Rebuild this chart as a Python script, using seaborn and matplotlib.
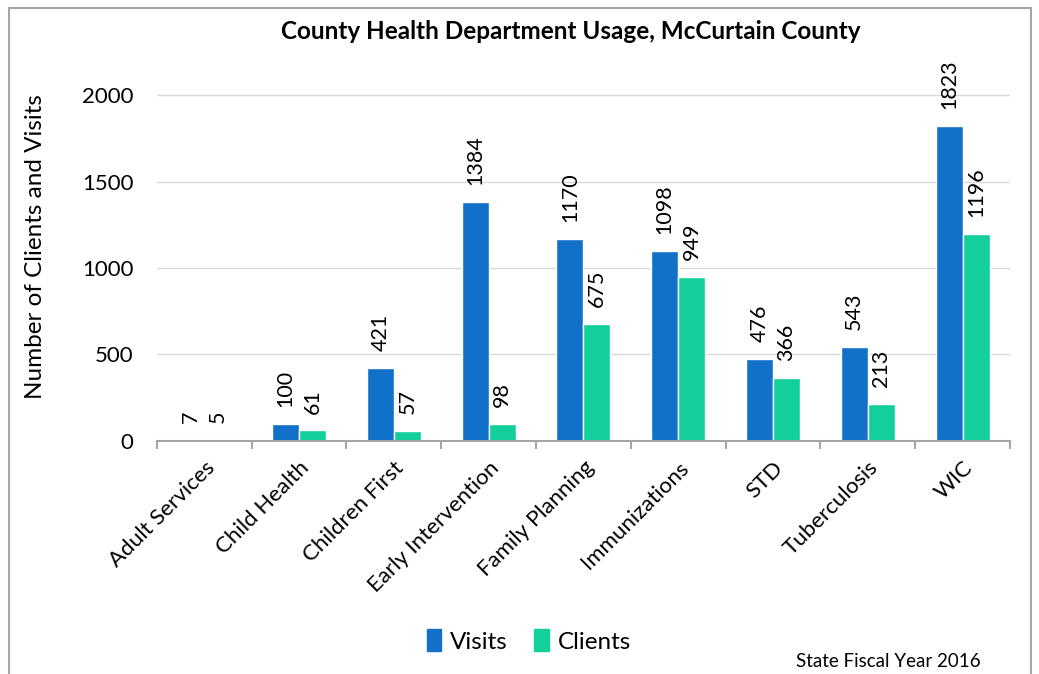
import seaborn as sns
import matplotlib.pyplot as plt
import matplotlib.patches as mpatches
import pandas as pd
import numpy as np

sns.set_theme(style="white")
plt.rcParams["font.family"] = ["Lato", "DejaVu Sans"]
plt.rcParams["text.color"] = "black"
plt.rcParams["axes.labelcolor"] = "black"
plt.rcParams["xtick.labelcolor"] = "black"
plt.rcParams["ytick.labelcolor"] = "black"

# 数据
categories = ["Adult Services", "Child Health", "Children First", "Early Intervention",
              "Family Planning", "Immunizations", "STD", "Tuberculosis", "WIC"]
visits = [7, 100, 421, 1384, 1170, 1098, 476, 543, 1823]
clients = [5, 61, 57, 98, 675, 949, 366, 213, 1196]
series = ["Visits", "Clients"]
colors = ["#1170C8", "#12CF9C"]

df = pd.DataFrame({
    "category": categories * 2,
    "value": visits + clients,
    "series": ["Visits"] * len(categories) + ["Clients"] * len(categories),
})

fig = plt.figure(figsize=(10.39, 6.74), dpi=100)
ax = fig.add_axes([0.151, 0.346, 0.821, 0.577])

sns.barplot(data=df, x="category", y="value", hue="series", hue_order=series,
            palette=colors, width=0.57, ax=ax, legend=False, saturation=1)

# 数值标签
for cont in ax.containers:
    ax.bar_label(cont, labels=[str(int(v)) for v in cont.datavalues],
                 rotation=90, padding=12, fontsize=15.5, color="black")

ax.set_ylim(0, 2250)
ax.set_yticks([0, 500, 1000, 1500, 2000])
ax.yaxis.grid(True, color="#D9D9D9", linewidth=1)
ax.set_axisbelow(True)
for s in ["top", "right", "left"]:
    ax.spines[s].set_visible(False)
ax.spines["bottom"].set_color("#A6A6A6")
ax.spines["bottom"].set_linewidth(1.5)
ax.set_xlim(-0.5, len(categories) - 0.5)

ax.set_xticks(np.arange(len(categories)))
ax.set_xticklabels(categories, rotation=45, ha="right", rotation_mode="anchor", fontsize=16)
ax.set_xticks(np.arange(len(categories) + 1) - 0.5, minor=True)
ax.tick_params(axis="x", which="major", length=0, pad=12)
ax.tick_params(axis="x", which="minor", length=6, color="#A6A6A6", width=1.5, bottom=True)
ax.tick_params(axis="y", labelsize=16, length=0, pad=17)
ax.set_xlabel("")
ax.set_ylabel("Number of Clients and Visits", fontsize=17.5, labelpad=26)

fig.text(0.549, 0.953, "County Health Department Usage, McCurtain County",
         ha="center", va="center", fontsize=17.5, fontweight="bold")

handles = [mpatches.Patch(color=c, label=s) for c, s in zip(colors, series)]
fig.legend(handles=handles, loc="center", bbox_to_anchor=(0.509, 0.049), ncol=2,
           frameon=False, fontsize=17.5, handlelength=0.6, handleheight=1.0,
           handletextpad=0.35, columnspacing=1.1)
fig.text(0.855, 0.019, "State Fiscal Year 2016", ha="center", va="center", fontsize=13.5)

# 外框
fig.patches.append(mpatches.Rectangle((0.009, -0.01), 0.983, 0.998, transform=fig.transFigure,
                                      fill=False, edgecolor="#A6A6A6", linewidth=1.5))

fig.savefig("out.png", dpi=100)
